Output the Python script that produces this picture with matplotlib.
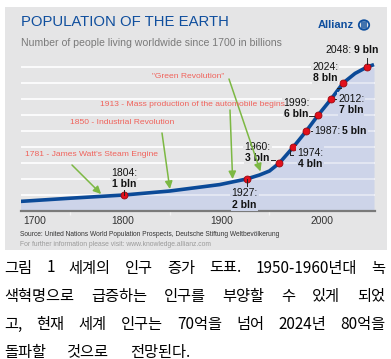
import matplotlib
matplotlib.use('Agg')
import matplotlib.pyplot as plt
from matplotlib.patches import Rectangle, Circle
from matplotlib.transforms import offset_copy

# Data
years = [1700, 1750, 1804, 1850, 1900, 1927, 1940, 1950, 1960, 1974, 1987, 1999, 2012, 2024, 2036, 2048, 2055]
pop = [0.6, 0.8, 1.0, 1.25, 1.65, 2.0, 2.25, 2.5, 3.0, 4.0, 5.0, 6.0, 7.0, 8.0, 8.6, 9.0, 9.15]

milestone_years = [1804, 1927, 1960, 1974, 1987, 1999, 2012, 2024, 2048]
milestone_pop = [1, 2, 3, 4, 5, 6, 7, 8, 9]

events = ['1781 - James Watt\'s Steam Engine', '1850 - Industrial Revolution',
          '1913 - Mass production of the automobile begins', '"Green Revolution"']
event_years = [1781, 1850, 1913, 1941]
event_pop = [0.94, 1.25, 1.87, 2.35]

xticks = [1700, 1800, 1900, 2000]

caption = ['그림 1 세계의 인구 증가 도표. 1950-1960년대 녹',
           '색혁명으로 급증하는 인구를 부양할 수 있게 되었',
           '고, 현재 세계 인구는 70억을 넘어 2024년 80억을',
           '돌파할 것으로 전망된다.']

W, H = 391, 359
SANS = ['Liberation Sans', 'DejaVu Sans']
PANEL = '#e5e5e6'
FILL = '#cdd4e9'
BLUE = '#0b4a98'

fig = plt.figure(figsize=(W / 100, H / 100), dpi=100)
fig.patch.set_facecolor('white')


def fx(px):
    return px / W


def fy(py):
    return 1 - py / H


# gray panel behind the chart
fig.patches.append(Rectangle((fx(5), fy(250)), fx(382), (243) / H, transform=fig.transFigure,
                             facecolor=PANEL, edgecolor='none', zorder=-5))

# plot axes: 1700 -> 20.5px, ~0.995 px per year; 0 bln at y=211, 16 px per bln
ax = fig.add_axes([fx(20.5), fy(211), 354.5 / W, 176 / H])
ax.set_zorder(1)
ax.set_facecolor('none')
ax.set_xlim(1700, 2056)
ax.set_ylim(0, 11)
for s in ['top', 'right', 'left']:
    ax.spines[s].set_visible(False)
ax.spines['bottom'].set_color('#7a7a7a')
ax.spines['bottom'].set_linewidth(1.6)
ax.set_yticks(range(1, 10))
ax.set_yticklabels([])
ax.tick_params(axis='y', length=0)
ax.grid(axis='y', color='white', lw=1.1, zorder=1)
ax.set_axisbelow(True)
ax.set_xticks(xticks)
ax.set_xticklabels([])
ax.tick_params(axis='x', length=0)
ax.set_xticks([1750, 1850, 1950], minor=True)
ax.tick_params(axis='x', which='minor', length=3, width=1, color='#f4f4f4', direction='out')
lab_tr = offset_copy(ax.get_xaxis_transform(), fig=fig, x=2.5, y=-10.5, units='dots')
for t in xticks:
    ax.text(t, 0, str(t), transform=lab_tr, fontsize=7.4, color='#333333', family=SANS,
            ha='left' if t == xticks[0] else 'center', va='center')

ax.fill_between(years, pop, 0, color=FILL, lw=0, zorder=1.5)
for yy in range(1, 10):
    ax.axhline(yy, color='white', lw=1.1, alpha=0.55, zorder=1.6)
ax.plot(years, pop, color=BLUE, lw=2.6, solid_capstyle='butt', zorder=3)
ax.plot(milestone_years, milestone_pop, 'o', ms=5, mfc='#e3101c', mec='#9a0a10', mew=0.6, zorder=4)

# milestone labels: (dx, dy in px from point, align, bg, one line?)
lab_style = {
    1804: (0, 17, 'center', PANEL, False),
    1927: (-2, -20, 'center', FILL, False),
    1960: (-22, 11, 'center', PANEL, False),
    1974: (17, -11, 'center', FILL, False),
    1987: (35, 0, 'split', FILL, True),
    1999: (-22, 7, 'center', PANEL, False),
    2012: (20, -5, 'center', FILL, False),
    2024: (-18, 11, 'center', PANEL, False),
    2048: (-14, 17, 'split', PANEL, True),
}
leaders = {
    1804: [(0, 0), (0, 8)],
    1927: [(0, 0), (0, -8)],
    1960: [(-4, 3), (-10, 3)],
    1974: [(-3, -3), (-3, -8), (0, -8)],
    1987: [(5, 0), (8, 0)],
    1999: [(-4, -1), (-9, -1)],
    2012: [(4, 0), (8, 0)],
    2024: [(-2, -5), (-6, -5)],
    2048: [(0, 3), (0, 9)],
}
FS = 7.5
to_px = ax.transData
for yr, p in zip(milestone_years, milestone_pop):
    dx, dy, ha, bg, one = lab_style[yr]
    box = dict(boxstyle='square,pad=0.1', fc=bg, ec='none')
    if one:
        ax.annotate(f'{yr}:', (yr, p), xytext=((dx - 1) * 0.72, dy * 0.72),
                    textcoords='offset points', ha='right', va='center', fontsize=FS,
                    family=SANS, color='#111111', zorder=5, bbox=box)
        ax.annotate(f'{p} bln', (yr, p), xytext=((dx + 1) * 0.72, dy * 0.72),
                    textcoords='offset points', ha='left', va='center', fontsize=FS,
                    family=SANS, weight='bold', color='#111111', zorder=5, bbox=box)
    else:
        ax.annotate(f'{yr}:', (yr, p), xytext=(dx * 0.72, (dy + 5.5) * 0.72),
                    textcoords='offset points', ha=ha, va='center', fontsize=FS,
                    family=SANS, color='#111111', zorder=5, bbox=box)
        ax.annotate(f'{p} bln', (yr, p), xytext=(dx * 0.72, (dy - 6) * 0.72),
                    textcoords='offset points', ha=ha, va='center', fontsize=FS,
                    family=SANS, weight='bold', color='#111111', zorder=5, bbox=box)
    pts = leaders[yr]
    x0, y0 = to_px.transform((yr, p))
    xs = [(x0 + a) for a, b in pts]
    ys = [(y0 + b) for a, b in pts]
    line = ax.transData.inverted().transform(list(zip(xs, ys)))
    ax.plot(line[:, 0], line[:, 1], color='#222222', lw=0.7, zorder=4.5)

# historical events with green arrows (text position in px)
ev_text_px = [(25, 154), (70, 123), (100, 104), (152, 76)]
ev_tail_px = [(72, 165), (162, 133), (230, 110), (229, 79)]
for label, ey, ep, (tx, ty), (ax_, ay) in zip(events, event_years, event_pop, ev_text_px, ev_tail_px):
    fig.text(fx(tx), fy(ty), label, ha='left', va='center', fontsize=6.1,
             family=SANS, color='#f0625b')
    tail = ax.transData.inverted().transform(
        fig.transFigure.transform((fx(ax_), fy(ay))))
    ax.annotate('', xy=(ey, ep + 0.12), xytext=tail,
                arrowprops=dict(arrowstyle='-|>,head_length=0.45,head_width=0.22',
                                color='#7cb843', lw=1.1, shrinkA=0, shrinkB=0), zorder=6)

# title block
fig.text(fx(21), fy(21.5), 'POPULATION OF THE EARTH', fontsize=10.7, family=SANS,
         color='#104f9e', ha='left', va='center')
fig.text(fx(21), fy(43), 'Number of people living worldwide since 1700 in billions', fontsize=7.6,
         family=SANS, color='#7a7a7a', ha='left', va='center')
fig.text(fx(318), fy(25), 'Allianz', fontsize=8, family=SANS, weight='bold',
         color='#104f9e', ha='left', va='center')
fig.patches.append(Circle((fx(364), fy(25)), 5.2 / W, transform=fig.transFigure,
                          facecolor='none', edgecolor='#104f9e', lw=1.3))
for dxp in (-2.2, 0, 2.2):
    fig.lines.append(plt.Line2D([fx(364 + dxp)] * 2, [fy(28), fy(22)], transform=fig.transFigure,
                                color='#104f9e', lw=1.1))

# source lines
fig.text(fx(20), fy(234), 'Source: United Nations World Population Prospects, Deutsche Stiftung Weltbevölkerung',
         fontsize=4.8, family=SANS, color='#333333', ha='left', va='center')
fig.text(fx(20), fy(245), 'For further information please visit: www.knowledge.allianz.com',
         fontsize=4.9, family=SANS, color='#9a9a9a', ha='left', va='center')

# Korean caption, justified word by word like the original
KR = ['Noto Sans CJK KR', 'DejaVu Sans']
renderer = fig.canvas.get_renderer()
targets = [385, 385, 385, 190]
for i, line in enumerate(caption):
    words = line.split(' ')
    ts = [fig.text(0, fy(268 + 28 * i), w, fontsize=11, family=KR, color='black',
                   ha='left', va='center') for w in words]
    widths = [t.get_window_extent(renderer).width for t in ts]
    gap = (targets[i] - 4 - sum(widths)) / max(len(words) - 1, 1)
    x = 4
    for t, w in zip(ts, widths):
        t.set_x(fx(x))
        x += w + gap

fig.savefig('out.png', dpi=100)
